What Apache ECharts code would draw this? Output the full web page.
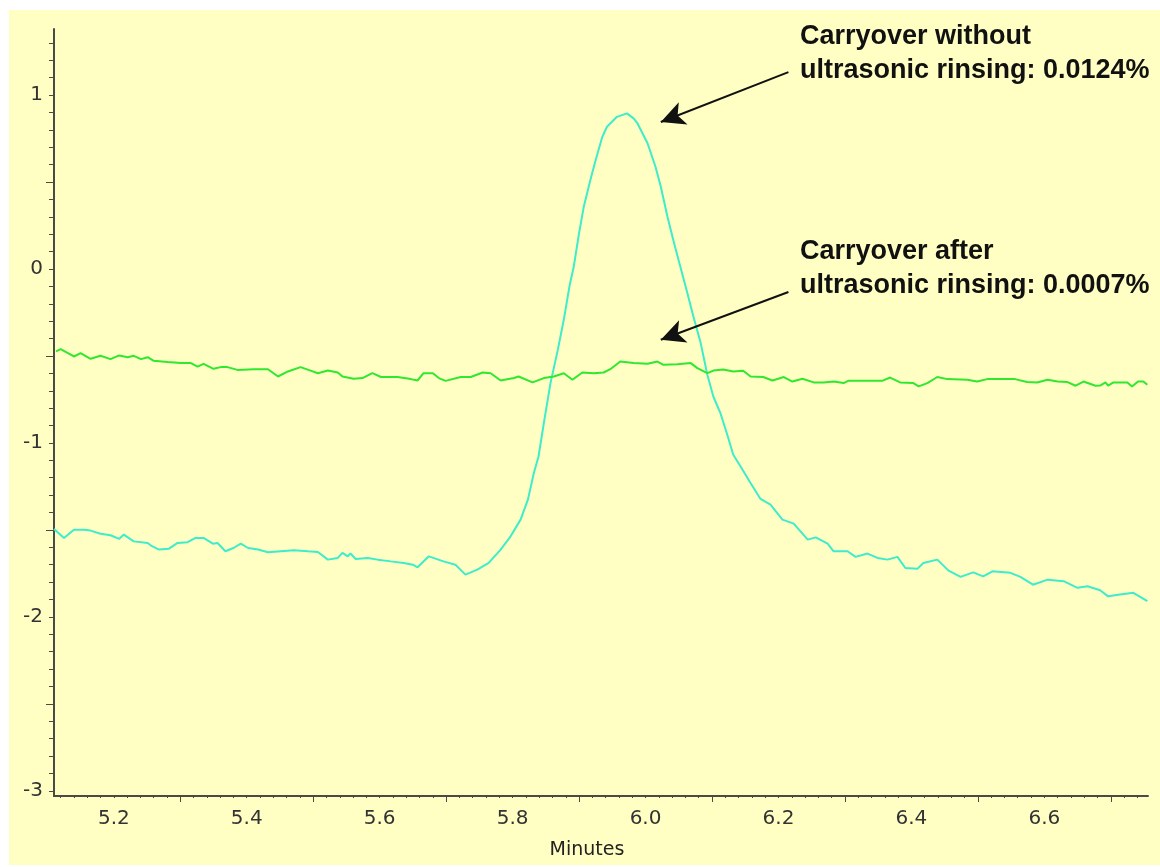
<!DOCTYPE html>
<html>
<head>
<meta charset="utf-8">
<script src="https://cdn.jsdelivr.net/npm/echarts@6/dist/echarts.min.js"></script>
<style>
  html, body { margin: 0; padding: 0; background: #ffffff; }
  #wrap { position: relative; width: 1160px; height: 867px; }
  #bg { position: absolute; left: 9px; top: 10px; width: 1151px; height: 855px; background: #ffffc4; }
  #chart { position: absolute; left: 0; top: 0; width: 1160px; height: 867px; }
</style>
</head>
<body>
<div id="wrap">
  <div id="bg"></div>
  <div id="chart"></div>
</div>
<script>
  // trace after ultrasonic rinsing (green)
  const greenTime = [5.113, 5.120, 5.140, 5.150, 5.165, 5.180, 5.195, 5.208, 5.221, 5.230, 5.241, 5.251, 5.260, 5.281,
    5.301, 5.316, 5.326, 5.335, 5.350, 5.361, 5.371, 5.386, 5.411, 5.432, 5.447, 5.462, 5.481, 5.496, 5.507, 5.522,
    5.537, 5.544, 5.561, 5.574, 5.589, 5.602, 5.627, 5.647, 5.657, 5.666, 5.680, 5.689, 5.699, 5.722, 5.737, 5.755,
    5.767, 5.782, 5.802, 5.809, 5.830, 5.847, 5.862, 5.877, 5.890, 5.905, 5.922, 5.937, 5.947, 5.962, 5.982, 6.003,
    6.018, 6.027, 6.048, 6.068, 6.078, 6.093, 6.102, 6.117, 6.132, 6.147, 6.158, 6.177, 6.191, 6.208, 6.221, 6.236,
    6.253, 6.268, 6.283, 6.298, 6.305, 6.334, 6.356, 6.368, 6.383, 6.403, 6.411, 6.424, 6.439, 6.454, 6.484, 6.499,
    6.514, 6.556, 6.574, 6.589, 6.605, 6.620, 6.635, 6.647, 6.659, 6.677, 6.684, 6.692, 6.696, 6.704, 6.725, 6.732,
    6.741, 6.749, 6.755];
  const greenSignal = [-0.474, -0.461, -0.503, -0.484, -0.516, -0.499, -0.518, -0.497, -0.507, -0.499, -0.518, -0.507,
    -0.528, -0.535, -0.541, -0.541, -0.561, -0.545, -0.574, -0.564, -0.564, -0.580, -0.576, -0.576, -0.618, -0.589,
    -0.564, -0.584, -0.599, -0.584, -0.595, -0.618, -0.631, -0.627, -0.599, -0.621, -0.621, -0.633, -0.641, -0.599,
    -0.599, -0.627, -0.643, -0.621, -0.621, -0.595, -0.599, -0.641, -0.627, -0.618, -0.652, -0.627, -0.618, -0.599,
    -0.637, -0.595, -0.599, -0.595, -0.576, -0.532, -0.541, -0.545, -0.532, -0.551, -0.547, -0.541, -0.570, -0.599,
    -0.584, -0.578, -0.589, -0.585, -0.618, -0.621, -0.641, -0.621, -0.647, -0.631, -0.652, -0.652, -0.647, -0.656,
    -0.643, -0.643, -0.643, -0.624, -0.652, -0.656, -0.675, -0.656, -0.621, -0.633, -0.637, -0.647, -0.633, -0.633,
    -0.650, -0.652, -0.637, -0.647, -0.650, -0.671, -0.647, -0.671, -0.670, -0.652, -0.671, -0.652, -0.652, -0.675,
    -0.647, -0.647, -0.666];

  // trace without ultrasonic rinsing (cyan)
  const cyanTime = [5.110, 5.125, 5.140, 5.155, 5.165, 5.180, 5.195, 5.208, 5.215, 5.230, 5.251, 5.256, 5.268, 5.283,
    5.296, 5.311, 5.323, 5.335, 5.349, 5.356, 5.368, 5.380, 5.391, 5.402, 5.417, 5.432, 5.451, 5.471, 5.492, 5.507,
    5.522, 5.537, 5.544, 5.552, 5.556, 5.564, 5.582, 5.597, 5.617, 5.636, 5.650, 5.657, 5.674, 5.696, 5.714, 5.729,
    5.747, 5.764, 5.782, 5.797, 5.812, 5.823, 5.832, 5.839, 5.847, 5.857, 5.868, 5.877, 5.886, 5.892, 5.900, 5.907,
    5.917, 5.925, 5.935, 5.942, 5.957, 5.972, 5.982, 5.988, 6.003, 6.015, 6.023, 6.033, 6.043, 6.055, 6.063, 6.072,
    6.083, 6.093, 6.102, 6.113, 6.123, 6.132, 6.143, 6.158, 6.173, 6.188, 6.206, 6.223, 6.244, 6.256, 6.274, 6.283,
    6.304, 6.316, 6.334, 6.349, 6.364, 6.379, 6.391, 6.409, 6.418, 6.439, 6.456, 6.474, 6.493, 6.508, 6.522, 6.549,
    6.564, 6.583, 6.605, 6.629, 6.650, 6.665, 6.684, 6.696, 6.714, 6.734, 6.755];
  const cyanSignal = [-1.495, -1.546, -1.499, -1.499, -1.504, -1.522, -1.531, -1.552, -1.527, -1.566, -1.575, -1.590,
    -1.613, -1.608, -1.575, -1.571, -1.546, -1.546, -1.579, -1.575, -1.623, -1.604, -1.579, -1.604, -1.613, -1.629,
    -1.623, -1.617, -1.623, -1.627, -1.671, -1.661, -1.632, -1.652, -1.636, -1.667, -1.661, -1.671, -1.681, -1.690,
    -1.700, -1.715, -1.652, -1.681, -1.700, -1.757, -1.728, -1.690, -1.613, -1.537, -1.441, -1.326, -1.173, -1.078,
    -0.886, -0.656, -0.465, -0.292, -0.090, 0.013, 0.206, 0.356, 0.512, 0.627, 0.760, 0.818, 0.875, 0.895, 0.866,
    0.837, 0.723, 0.588, 0.473, 0.301, 0.148, -0.025, -0.139, -0.273, -0.426, -0.608, -0.733, -0.832, -0.953, -1.068,
    -1.135, -1.230, -1.322, -1.355, -1.441, -1.464, -1.556, -1.543, -1.579, -1.623, -1.623, -1.655, -1.636, -1.661,
    -1.671, -1.655, -1.719, -1.724, -1.690, -1.671, -1.734, -1.770, -1.744, -1.767, -1.738, -1.747, -1.770, -1.815,
    -1.786, -1.795, -1.833, -1.824, -1.847, -1.882, -1.872, -1.862, -1.910];

  const xLabels = [5.2, 5.4, 5.6, 5.8, 6.0, 6.2, 6.4, 6.6];
  const xMidTicks = [5.3, 5.5, 5.7, 5.9, 6.1, 6.3, 6.5, 6.7];
  const yLabels = [-3, -2, -1, 0, 1];
  const yHalfTicks = [-2.5, -1.5, -0.5, 0.5];

  const notes = [
    { text: 'Carryover without\nultrasonic rinsing: 0.0124%', from: [6.215, 1.132], to: [6.023, 0.845] },
    { text: 'Carryover after\nultrasonic rinsing: 0.0007%', from: [6.215, -0.132], to: [6.023, -0.407] }
  ];

  // small tick positions
  let yMinorTicks = [];
  for (let i = -30; i <= 13; i++) yMinorTicks.push(i / 10);
  let xMinorTicks = [];
  for (let i = 256; i <= 337; i++) xMinorTicks.push(i / 50);

  const pairs = (t, v) => t.map((x, i) => [x, v[i]]);
  const labelFont = { color: '#333', fontSize: 20, fontFamily: 'DejaVu Sans' };
  const axisColor = '#4a4a44';

  let chart = echarts.init(document.getElementById('chart'));
  chart.setOption({
    animation: false,
    backgroundColor: 'transparent',
    grid: { left: 54, right: 12, top: 29, bottom: 71 },
    xAxis: [
      {
        type: 'value', min: 5.11, max: 6.756, position: 'bottom',
        name: 'Minutes', nameLocation: 'middle', nameGap: 45,
        nameTextStyle: { color: '#222', fontSize: 19, fontFamily: 'DejaVu Sans', padding: [0, 28, 0, 0] },
        axisLine: { show: true, onZero: false, lineStyle: { color: axisColor, width: 2 } },
        axisTick: { show: true, customValues: xMidTicks, length: 6, lineStyle: { color: axisColor, width: 1 } },
        axisLabel: Object.assign({ customValues: xLabels, margin: 13, formatter: v => v.toFixed(1) }, labelFont),
        splitLine: { show: false }
      },
      {
        type: 'value', min: 5.11, max: 6.756, position: 'bottom',
        axisLine: { show: false, onZero: false },
        axisTick: { show: true, customValues: xMinorTicks, length: 2, lineStyle: { color: axisColor, width: 1 } },
        axisLabel: { show: false },
        splitLine: { show: false }
      }
    ],
    yAxis: [
      {
        type: 'value', min: -3.03, max: 1.38, position: 'left',
        axisLine: { show: true, onZero: false, lineStyle: { color: axisColor, width: 2 } },
        axisTick: { show: true, customValues: yMinorTicks, length: 5, lineStyle: { color: axisColor, width: 1 } },
        axisLabel: Object.assign({ customValues: yLabels, margin: 11 }, labelFont),
        splitLine: { show: false }
      },
      {
        type: 'value', min: -3.03, max: 1.38, position: 'left',
        axisLine: { show: false, onZero: false },
        axisTick: { show: true, customValues: yHalfTicks, length: 8, lineStyle: { color: axisColor, width: 1 } },
        axisLabel: { show: false },
        splitLine: { show: false }
      }
    ],
    series: [
      {
        name: 'without rinsing', type: 'line', showSymbol: false,
        data: pairs(cyanTime, cyanSignal),
        lineStyle: { color: '#3eeccb', width: 2 }
      },
      {
        name: 'after rinsing', type: 'line', showSymbol: false,
        data: pairs(greenTime, greenSignal),
        lineStyle: { color: '#2fe82f', width: 2 },
        markLine: {
          silent: true, symbol: ['none', 'arrow'], symbolSize: [18, 24],
          label: { show: false },
          lineStyle: { color: '#111', width: 2, type: 'solid' },
          data: notes.map(n => [{ coord: n.from }, { coord: n.to }])
        }
      }
    ],
    graphic: [
      { type: 'text', left: 800, top: 20,
        style: { text: notes[0].text, fill: '#111', fontSize: 27, fontWeight: 'bold', fontFamily: 'Liberation Sans', lineHeight: 34 } },
      { type: 'text', left: 800, top: 235,
        style: { text: notes[1].text, fill: '#111', fontSize: 27, fontWeight: 'bold', fontFamily: 'Liberation Sans', lineHeight: 34 } }
    ]
  });
</script>
</body>
</html>
